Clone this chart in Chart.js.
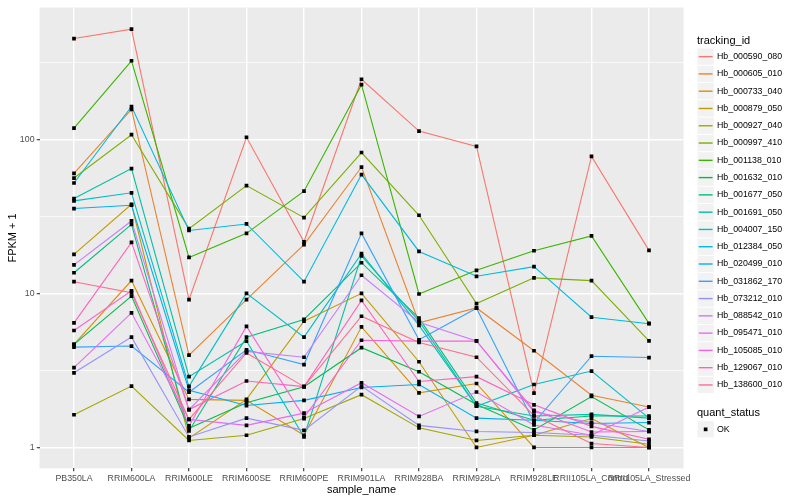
<!DOCTYPE html>
<html>
<head>
<meta charset="utf-8">
<script src="https://cdn.jsdelivr.net/npm/chart.js@4.4.1/dist/chart.umd.min.js"></script>
<style>
  body { margin: 0; background: #fff; }
  #wrap { position: relative; width: 800px; height: 500px; font-family: 'Liberation Sans', Arial, sans-serif; }
  #chart { position: absolute; left: 0; top: 0; }
  .lg-title { position: absolute; left: 697px; font-size: 11px; line-height: 11px; color: #000; white-space: nowrap; }
  .lg-text { position: absolute; left: 717px; font-size: 8.8px; line-height: 17.28px; height: 17.28px; color: #000; white-space: nowrap; }
</style>
</head>
<body>
<div id="wrap">
  <canvas id="chart" width="800" height="500"></canvas>
  <div id="legend"></div>
</div>
<script>
// categories on the x axis
const sampleNames = ['PB350LA', 'RRIM600LA', 'RRIM600LE', 'RRIM600SE', 'RRIM600PE', 'RRIM901LA',
  'RRIM928BA', 'RRIM928LA', 'RRIM928LE', 'RRII105LA_Control', 'RRII105LA_Stressed'];

// labelled y ticks (FPKM + 1, log scale) and the minor grid between them
const yTickValues = [1, 10, 100];
const yMinorValues = [3.1623, 31.623, 316.23];

const trackingIds = ['Hb_000590_080', 'Hb_000605_010', 'Hb_000733_040', 'Hb_000879_050', 'Hb_000927_040',
  'Hb_000997_410', 'Hb_001138_010', 'Hb_001632_010', 'Hb_001677_050', 'Hb_001691_050',
  'Hb_004007_150', 'Hb_012384_050', 'Hb_020499_010', 'Hb_031862_170', 'Hb_073212_010',
  'Hb_088542_010', 'Hb_095471_010', 'Hb_105085_010', 'Hb_129067_010', 'Hb_138600_010'];

// ggplot hue palette, 20 levels
const lineColors = ['#F8766D', '#EA8331', '#D89000', '#C09B00', '#A3A500', '#7CAE00', '#39B600', '#00BB4E',
  '#00BF7D', '#00C1A3', '#00BFC4', '#00BAE0', '#00B0F6', '#35A2FF', '#9590FF', '#C77CFF', '#E76BF3',
  '#FA62DB', '#FF62BC', '#FF6C91'];

// FPKM + 1 per sample, one array per gene
const hb_000590_080 = [450, 518, 9.1, 103, 21.6, 245, 113, 89.8, 2.25, 77.4, 19.0];
const hb_000605_010 = [60, 156, 3.97, 9.1, 20.7, 66, 6.44, 8.04, 4.24, 2.18, 1.83];
const hb_000733_040 = [4.67, 12.1, 2.05, 2.02, 1.2, 6.06, 2.26, 2.6, 1.0, 1.0, 1.0];
const hb_000879_050 = [17.9, 37.8, 1.15, 2.05, 6.6, 10.0, 3.6, 1.0, 1.2, 1.54, 1.0];
const hb_000927_040 = [1.63, 2.5, 1.11, 1.2, 1.54, 2.2, 1.34, 1.11, 1.2, 1.17, 1.05];
const hb_000997_410 = [56, 107, 26.3, 50, 31, 82, 32.1, 8.58, 12.6, 12.1, 4.91];
const hb_001138_010 = [118, 323, 17.1, 24.5, 46, 226, 9.9, 14.1, 18.9, 23.6, 6.38];
const hb_001632_010 = [4.67, 9.6, 1.33, 1.95, 2.48, 4.44, 3.1, 1.9, 1.3, 2.14, 1.3];
const hb_001677_050 = [13.6, 28, 1.28, 5.2, 6.77, 15.8, 6.9, 1.94, 1.5, 1.6, 1.6];
const hb_001691_050 = [41.2, 64.5, 2.88, 4.9, 1.17, 17.5, 6.6, 1.85, 1.6, 1.64, 1.55];
const hb_004007_150 = [39.8, 44.9, 2.49, 10, 5.2, 18.1, 6.2, 1.85, 2.56, 3.13, 1.55];
const hb_012384_050 = [52, 163, 25.6, 28.2, 11.9, 59, 18.7, 12.9, 14.9, 7.0, 6.35];
const hb_020499_010 = [35.5, 37.3, 2.35, 1.87, 2.02, 2.45, 2.56, 1.55, 1.5, 1.43, 1.45];
const hb_031862_170 = [4.48, 4.55, 2.28, 4.3, 3.45, 24.5, 5.0, 8.0, 1.45, 3.91, 3.83];
const hb_073212_010 = [3.05, 5.2, 1.17, 1.55, 1.29, 2.5, 1.39, 1.27, 1.25, 1.2, 1.1];
const hb_088542_010 = [15.3, 29.5, 1.76, 4.2, 3.85, 13.1, 6.5, 4.91, 1.7, 1.45, 1.27];
const hb_095471_010 = [3.3, 7.47, 1.52, 1.39, 1.67, 2.63, 1.59, 2.29, 1.4, 1.2, 1.83];
const hb_105085_010 = [5.74, 10.4, 1.38, 6.1, 1.57, 4.96, 4.9, 4.91, 1.74, 1.26, 1.27];
const hb_129067_010 = [6.43, 21.4, 1.76, 2.7, 2.48, 9.0, 2.68, 2.88, 1.89, 1.37, 1.13];
const hb_138600_010 = [11.9, 10.1, 1.52, 4.1, 2.48, 7.1, 4.8, 3.85, 1.61, 1.06, 1.0];

const seriesValues = [hb_000590_080, hb_000605_010, hb_000733_040, hb_000879_050, hb_000927_040,
  hb_000997_410, hb_001138_010, hb_001632_010, hb_001677_050, hb_001691_050,
  hb_004007_150, hb_012384_050, hb_020499_010, hb_031862_170, hb_073212_010,
  hb_088542_010, hb_095471_010, hb_105085_010, hb_129067_010, hb_138600_010];

const FONT = "'Liberation Sans', Arial, sans-serif";
const KEY = 17.28, KEY_LEFT = 697, KEY_TOP = 48, OK_TOP = 420.7;

// grey panel behind the grid, like theme_gray
const panelBg = {
  id: 'panelBg',
  beforeDraw(chart) {
    const { ctx, chartArea: a } = chart;
    ctx.save();
    ctx.fillStyle = '#EBEBEB';
    ctx.fillRect(a.left, a.top, a.right - a.left, a.bottom - a.top);
    ctx.restore();
  }
};

// legend keys (grey boxes with a line / point), texts are html below
const legendKeys = {
  id: 'legendKeys',
  afterDraw(chart) {
    const ctx = chart.ctx;
    ctx.save();
    const box = (top) => {
      ctx.fillStyle = '#F2F2F2';
      ctx.fillRect(KEY_LEFT + 0.5, top + 0.5, KEY - 1, KEY - 1);
    };
    trackingIds.forEach((id, k) => {
      const top = KEY_TOP + k * KEY;
      box(top);
      ctx.strokeStyle = lineColors[k];
      ctx.lineWidth = 1.4;
      ctx.beginPath();
      ctx.moveTo(KEY_LEFT + 1.7, top + KEY / 2);
      ctx.lineTo(KEY_LEFT + KEY - 1.7, top + KEY / 2);
      ctx.stroke();
    });
    box(OK_TOP);
    ctx.fillStyle = '#000';
    ctx.fillRect(KEY_LEFT + KEY / 2 - 1.85, OK_TOP + KEY / 2 - 1.85, 3.7, 3.7);
    ctx.restore();
  }
};

const isMajorY = (c) => c.tick && yTickValues.includes(c.tick.value);

const lineSets = seriesValues.map((vals, k) => ({
  type: 'line',
  label: trackingIds[k],
  data: vals.map((v, i) => ({ x: i, y: v })),
  borderColor: lineColors[k],
  borderWidth: 1.1,
  pointRadius: 0,
  tension: 0,
  fill: false,
  order: 100 - k
}));

const pointData = [];
seriesValues.forEach(vals => vals.forEach((v, i) => pointData.push({ x: i, y: v })));

new Chart(document.getElementById('chart'), {
  type: 'line',
  data: {
    datasets: [...lineSets, {
      type: 'scatter',
      label: 'OK',
      data: pointData,
      pointStyle: 'rect',
      pointRadius: 2.6,
      backgroundColor: '#000',
      borderWidth: 0,
      showLine: false,
      order: 0
    }]
  },
  options: {
    responsive: false,
    animation: false,
    events: [],
    layout: { padding: { left: 0, top: 4.7, right: 116.5, bottom: 0 } },
    plugins: { legend: { display: false }, tooltip: { enabled: false } },
    scales: {
      x: {
        type: 'linear',
        min: -0.6,
        max: sampleNames.length - 1 + 0.6,
        afterBuildTicks: s => { s.ticks = sampleNames.map((_, i) => ({ value: i })); },
        afterFit: s => { s.height = 31.6; },
        ticks: {
          autoSkip: false, maxRotation: 0, minRotation: 0, padding: 2.2,
          color: '#4D4D4D', font: { family: FONT, size: 8.8 },
          callback: v => sampleNames[v]
        },
        grid: { color: '#FFFFFF', lineWidth: 1.4, tickLength: 2.75, tickColor: '#333333', tickWidth: 1.1 },
        border: { display: false },
        title: { display: true, text: 'sample_name', color: '#000', font: { family: FONT, size: 11 }, padding: { top: 0, bottom: 3.4 } }
      },
      y: {
        type: 'logarithmic',
        bounds: 'data',
        min: Math.pow(10, -0.136),
        max: Math.pow(10, 2.855),
        afterBuildTicks: s => { s.ticks = [...yTickValues, ...yMinorValues].sort((a, b) => a - b).map(v => ({ value: v })); },
        afterFit: s => { s.width = 39.5; },
        ticks: {
          autoSkip: false, padding: 2.2, color: '#4D4D4D', font: { family: FONT, size: 8.8 },
          callback: v => yTickValues.includes(v) ? String(v) : ''
        },
        grid: {
          color: '#FFFFFF',
          lineWidth: c => isMajorY(c) ? 1.4 : 0.7,
          tickLength: 2.75,
          tickWidth: 1.1,
          tickColor: c => isMajorY(c) ? '#333333' : 'rgba(0,0,0,0)'
        },
        border: { display: false },
        title: { display: true, text: 'FPKM + 1', color: '#000', font: { family: FONT, size: 11 }, padding: { top: 6.4, bottom: 0 } }
      }
    }
  },
  plugins: [panelBg, legendKeys]
});

// legend texts
const legend = document.getElementById('legend');
function addText(cls, text, top) {
  const t = document.createElement('div');
  t.className = cls;
  t.style.top = top + 'px';
  t.textContent = text;
  legend.appendChild(t);
}
addText('lg-title', 'tracking_id', 35);
trackingIds.forEach((id, k) => addText('lg-text', id, KEY_TOP + k * KEY));
addText('lg-title', 'quant_status', 407);
addText('lg-text', 'OK', OK_TOP);
</script>
</body>
</html>
